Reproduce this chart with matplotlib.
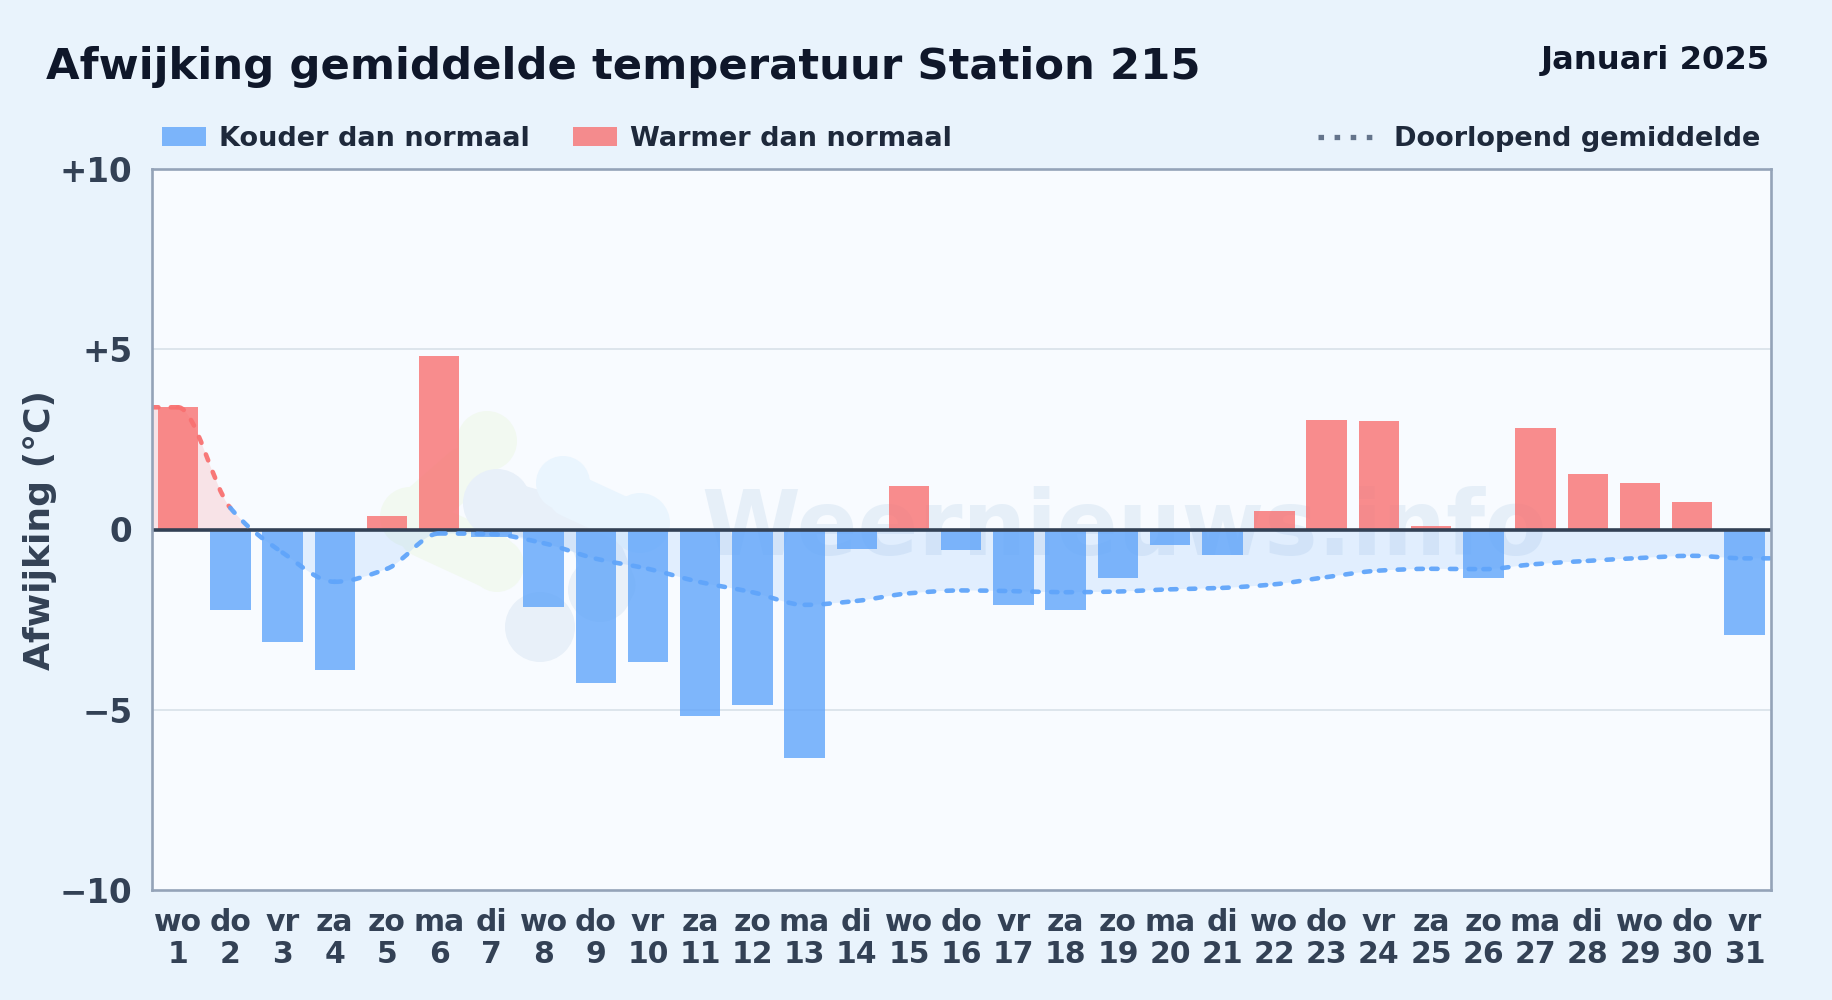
import numpy as np
import matplotlib
matplotlib.use('Agg')
import matplotlib.pyplot as plt
from matplotlib.path import Path
from matplotlib.patches import PathPatch, Rectangle, Circle
from matplotlib.lines import Line2D
from matplotlib.transforms import Affine2D

#### DATA

weekdays = ['wo', 'do', 'vr', 'za', 'zo', 'ma', 'di'] * 4 + ['wo', 'do', 'vr']
days = list(range(1, 32))

deviation = [3.39, -2.23, -3.13, -3.9, 0.37, 4.8, -0.2, -2.16, -4.26, -3.67, -5.17,
             -4.88, -6.34, -0.55, 1.2, -0.58, -2.1, -2.23, -1.35, -0.42, -0.72,
             0.52, 3.05, 3.02, 0.1, -1.35, 2.82, 1.53, 1.3, 0.76, -2.93]

running_mean = [3.39, 0.6, -0.64, -1.45, -1.09, -0.11, -0.13, -0.38, -0.81, -1.09, -1.46,
                -1.74, -2.09, -1.98, -1.77, -1.69, -1.71, -1.74, -1.72, -1.66, -1.62,
                -1.52, -1.32, -1.14, -1.09, -1.10, -0.96, -0.87, -0.79, -0.73, -0.80]

yticks = [10, 5, 0, -5, -10]
yticklabels = ['+10', '+5', '0', '\u22125', '\u221210']

#### STYLE

W, H = 1832, 1000
BG = '#e9f3fc'
PLOT_BG = '#f8fbff'
BLUE = '#60a5fa'
RED = '#f87171'
DARK = '#334155'
NAVY = '#0f172a'
LEGEND_TXT = '#1e293b'


def monotone_segments(x, y):
	# bezier control points for a monotone curve through the points
	x = np.asarray(x, float)
	y = np.asarray(y, float)
	h = np.diff(x)
	d = np.diff(y) / h
	m = np.zeros(len(x))
	for i in range(1, len(x) - 1):
		if d[i-1] * d[i] > 0:
			m[i] = 2 * d[i-1] * d[i] / (d[i-1] + d[i])
	m[0] = d[0]
	m[-1] = d[-1]
	segs = []
	for i in range(len(h)):
		segs.append([(x[i], y[i]),
					 (x[i] + h[i]/3, y[i] + m[i]*h[i]/3),
					 (x[i+1] - h[i]/3, y[i+1] - m[i+1]*h[i]/3),
					 (x[i+1], y[i+1])])
	return segs


#### PLOT

fig = plt.figure(figsize=(W/100, H/100), dpi=100, facecolor=BG)
ax = fig.add_axes([152/W, 1 - 890/H, (1770.5 - 152)/W, (890 - 169)/H])
ax.set_facecolor(PLOT_BG)

x = np.arange(len(deviation))

ax.set_xlim(-0.5, len(deviation) - 0.5)
ax.set_ylim(-10, 10)

# Watermark, placed in image pixels

px = Affine2D().scale(1, -1).translate(0, H)

GREEN_B, GREY_B, SKY_B = '#f2f9f1', '#e8f0f9', '#eaf5fe'

blobs = [(487, 441, 30, GREEN_B), (410, 517, 30, GREEN_B), (497, 565, 27, GREEN_B),
		 (497, 503, 34, GREY_B), (540, 627, 35, GREY_B), (600, 590, 32, GREY_B),
		 (563, 483, 27, SKY_B), (640, 523, 30, SKY_B)]
links = [(465, 470, 425, 505, 34, GREEN_B), (425, 530, 490, 560, 40, GREEN_B),
		 (500, 505, 590, 530, 36, GREY_B), (590, 530, 612, 585, 34, GREY_B),
		 (570, 495, 635, 525, 32, SKY_B)]
for x0, y0, x1, y1, lw, lc in links:
	ax.add_line(Line2D([x0, x1], [y0, y1], transform=px, color=lc, linewidth=lw,
					   solid_capstyle='round', zorder=0.4))
for bx, by, br, bc in blobs:
	ax.add_patch(Circle((bx, by), br, transform=px, facecolor=bc, edgecolor='none', zorder=0.5))

ax.text(1124, 530, 'Weernieuws.info', transform=px, ha='center', va='center', fontsize=64.5,
		fontweight='bold', color='#e4eef8', alpha=0.9, zorder=0.6)

ax.grid(False)
for yy in [5, -5]:
	ax.axhline(yy, color='#dde5ec', linewidth=1.4, zorder=1)

# Area between the running mean and zero

lx = np.concatenate([[-0.5], x, [len(x) - 0.5]])
ly = np.concatenate([[running_mean[0]], running_mean, [running_mean[-1]]])
segs = monotone_segments(lx, ly)

verts = [segs[0][0]]
codes = [Path.MOVETO]
for s in segs:
	verts += s[1:]
	codes += [Path.CURVE4] * 3
verts += [(lx[-1], 0), (lx[0], 0), (lx[0], ly[0])]
codes += [Path.LINETO, Path.LINETO, Path.CLOSEPOLY]
area = Path(verts, codes)

area_neg = PathPatch(area, facecolor=BLUE, alpha=0.15, edgecolor='none', zorder=1.5)
ax.add_patch(area_neg)
area_neg.set_clip_path(Rectangle((-0.5, -10), 31, 10, transform=ax.transData))
area_pos = PathPatch(area, facecolor=RED, alpha=0.17, edgecolor='none', zorder=1.5)
ax.add_patch(area_pos)
area_pos.set_clip_path(Rectangle((-0.5, 0), 31, 10, transform=ax.transData))

# Bars

colors = [RED if v > 0 else BLUE for v in deviation]
ax.bar(x, deviation, width=0.775, color=colors, alpha=0.8, linewidth=0, zorder=2)

ax.axhline(0, color=DARK, linewidth=2.6, zorder=3)

# Running mean, each stretch with its own dash start

for ii, s in enumerate(segs):
	seg_color = RED if ly[ii+1] > 0.7 or ii == 1 else BLUE
	seg = PathPatch(Path(s, [Path.MOVETO, Path.CURVE4, Path.CURVE4, Path.CURVE4]), facecolor='none',
					edgecolor=seg_color, linewidth=3.3, linestyle=(0, (1.4, 2.7)),
					capstyle='round', alpha=0.95, zorder=4)
	ax.add_patch(seg)

# Axes

ax.set_xticks(x)
ax.set_xticklabels(['%s\n%d' % (a, b) for a, b in zip(weekdays, days)], fontsize=21.5,
				   fontweight='bold', color=DARK, linespacing=1.12)
ax.set_yticks(yticks)
ax.set_yticklabels(yticklabels, fontsize=23.5, fontweight='bold', color=DARK)
ax.tick_params(axis='x', length=0, pad=13)
ax.tick_params(axis='y', length=0, pad=14)
ax.set_ylabel('Afwijking (\u00b0C)', fontsize=26, fontweight='bold', color=DARK)
ax.yaxis.set_label_coords(-0.0585, 0.5)

for sp in ax.spines.values():
	sp.set_color('#94a3b8')
	sp.set_linewidth(1.9)
	sp.set_zorder(5)

# Title

fig.text(46/W, 1 - 67.5/H, 'Afwijking gemiddelde temperatuur Station 215', fontsize=31.2,
		 fontweight='bold', color=NAVY, ha='left', va='center')
fig.text(1770/W, 1 - 61/H, 'Januari 2025', fontsize=23.2, fontweight='bold', color=NAVY,
		 ha='right', va='center')

# Legend

fig.add_artist(Rectangle((162/W, 1 - 146/H), 44/W, 19/H, transform=fig.transFigure,
						 facecolor=BLUE, alpha=0.8, edgecolor='none'))
fig.add_artist(Rectangle((573/W, 1 - 146/H), 44/W, 19/H, transform=fig.transFigure,
						 facecolor=RED, alpha=0.8, edgecolor='none'))
fig.add_artist(Line2D([1318/W, 1374/W], [1 - 137/H, 1 - 137/H], transform=fig.transFigure,
					  color='#64748b', linewidth=3.8, linestyle=(0, (1.05, 2.0))))

fig.text(219/W, 1 - 138.8/H, 'Kouder dan normaal', fontsize=19.5, fontweight='bold',
		 color=LEGEND_TXT, ha='left', va='center')
fig.text(630/W, 1 - 138.8/H, 'Warmer dan normaal', fontsize=19.5, fontweight='bold',
		 color=LEGEND_TXT, ha='left', va='center')
fig.text(1760/W, 1 - 138.8/H, 'Doorlopend gemiddelde', fontsize=19.5, fontweight='bold',
		 color=LEGEND_TXT, ha='right', va='center')

plt.savefig('out.png', dpi=100, facecolor=BG)
